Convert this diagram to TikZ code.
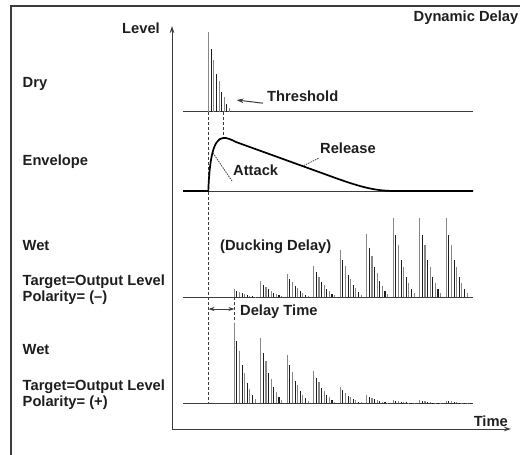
\documentclass[tikz,border=0pt]{standalone}
\usepackage{fontspec}
\setmainfont{Liberation Sans}
\usepackage{tikz}
\usetikzlibrary{arrows.meta,positioning,calc}
\definecolor{inkgray}{RGB}{30,30,30}
\definecolor{spikegray}{RGB}{135,135,135}
\definecolor{spikedark}{RGB}{30,30,30}
\definecolor{linegray}{RGB}{60,60,60}

% one burst of decaying spikes: start x, baseline y, peak height
\newcommand{\spikes}[3]{%
  \foreach \r [count=\i from 0] in {1,.78,.65,.47,.38,.25,.18,.10,.05}{
    \pgfmathsetmacro{\xx}{#1+2.6*\i}
    \pgfmathsetmacro{\hh}{#3*\r}
    \ifodd\i \def\spc{spikedark}\else\def\spc{spikegray}\fi
    \draw[spike, draw=\spc] (\xx,#2) -- ++(0,-\hh);
  }}

\begin{document}
\begin{tikzpicture}[x=1pt, y=-1pt,
    lbl/.style={anchor=base west, inner sep=0pt, text=inkgray,
      font=\fontsize{14.7}{16}\selectfont\bfseries},
    spike/.style={line width=1.1pt},
    baseln/.style={linegray, line width=0.8pt},
    guide/.style={linegray, line width=0.8pt, dash pattern=on 3pt off 2pt},
    leader/.style={linegray, line width=0.8pt, dash pattern=on 1.5pt off 1pt},
    arr/.style={-{Stealth[length=7pt,width=4.5pt]}, linegray, line width=0.9pt}]
  \useasboundingbox (0,0) rectangle (520,455);
  % frame
  \draw[linegray, line width=1.6pt] (11,456) -- (11,6) -- (521,6);

  % axes
  \coordinate (origin) at (172,429);
  \coordinate (ytip) at (172,26);
  \coordinate (xtip) at (511,429);
  \draw[arr] (origin) -- (ytip);
  \draw[arr] (origin) -- (xtip);
  \node[lbl, anchor=base east] (level) at (160,33.3) {Level};
  \node[lbl, anchor=base east] (time) at (508,426) {Time};
  \node[lbl, anchor=base east] (title) at (518.5,21) {Dynamic Delay};

  % row labels
  \node[lbl] (dry) at (22.5,87.3) {Dry};
  \node[lbl] (env) at (22.5,165) {Envelope};
  \node[lbl] (wetA) at (22.5,250) {Wet};
  \node[lbl] (tgtA) at (22.5,285) {Target=Output Level};
  \node[lbl] (polA) at (22.5,301.7) {Polarity= (--)};
  \node[lbl] (wetB) at (22.5,354) {Wet};
  \node[lbl] (tgtB) at (22.5,390) {Target=Output Level};
  \node[lbl] (polB) at (22.5,406.7) {Polarity= (+)};

  % dry signal
  \draw[baseln] (183,111.5) -- (473,111.5);
  \spikes{208.7}{111.5}{79.5}
  \node[lbl] (thr) at (267,101.7) {Threshold};
  \coordinate (thrtip) at (236.5,100);
  \draw[arr, line width=1pt] ([xshift=-4pt,yshift=-1.5pt]thr.base west) -- (thrtip);

  % guides
  \draw[guide] (208.5,112) -- (208.5,403);
  \draw[guide] (223,112) -- (223,138);
  \draw[guide] (234.3,297) -- (234.3,322);

  % envelope
  \draw[baseln] (183,191) -- (473,191);
  \draw[black, line width=1.7pt, line join=round]
    (183,191) -- (208.3,191) .. controls (209.5,160) and (213,139) .. (223,138)
    .. controls (227,137.5) and (231,139.5) .. (236,142) -- (330,176)
    .. controls (360,187) and (375,191) .. (395,191) -- (473,191);
  \node[lbl] (atk) at (233,175) {Attack};
  \coordinate (atkpt) at (213,153);
  \draw[leader] ([xshift=-1pt,yshift=-6pt]atk.base west) -- (atkpt);
  \node[lbl] (rel) at (320,153.3) {Release};
  \coordinate (relpt) at (303,166);
  \draw[leader] ([xshift=-1.5pt,yshift=-5pt]rel.base west) -- (relpt);

  % wet, ducking
  \draw[baseln] (183,297) -- (473,297);
  \foreach \gx/\gh in {234.3/8,260.8/16,287.3/23.5,313.8/31.5,340.3/47.5,
      366.8/63,393.3/79.5,419.8/79.5,446.3/79.5}{
    \spikes{\gx}{297}{\gh}
  }
  \node[lbl] (duck) at (220,250) {(Ducking Delay)};

  % delay time
  \coordinate (dtl) at (208.5,309);
  \coordinate (dtr) at (234.3,309);
  \draw[{Stealth[length=6pt,width=4pt]}-{Stealth[length=6pt,width=4pt]}, linegray, line width=0.8pt] (dtl) -- (dtr);
  \node[lbl] (dt) at (240,315) {Delay Time};

  % wet, positive polarity
  \draw[baseln] (183,403.3) -- (473,403.3);
  \foreach \gx/\gh in {234.3/80.5,260.8/65,287.3/48.5,313.8/32.5,340.3/16.5,
      366.8/8.5,393.3/3.5,419.8/3,446.3/2.8}{
    \spikes{\gx}{403.3}{\gh}
  }
\end{tikzpicture}
\end{document}
